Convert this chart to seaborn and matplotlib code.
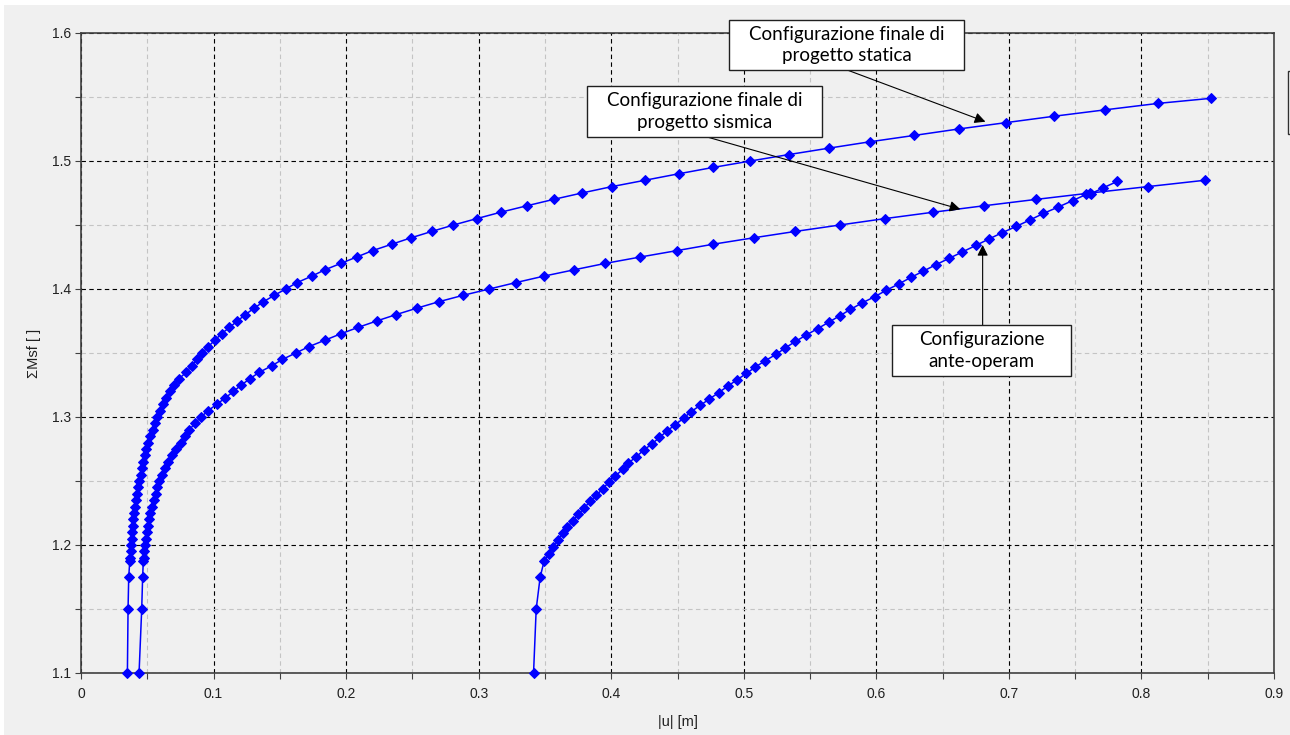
import matplotlib
matplotlib.use("Agg")
import matplotlib.pyplot as plt
from matplotlib.patches import Rectangle
import seaborn as sns
import pandas as pd

# --- data ------------------------------------------------------------------
statica_y = [1.1, 1.15, 1.175, 1.1875, 1.19, 1.195, 1.2, 1.205, 1.21, 1.215,
             1.22, 1.225, 1.23, 1.235, 1.24, 1.245, 1.25, 1.255, 1.26, 1.265,
             1.27, 1.275, 1.28, 1.285, 1.29, 1.295, 1.3, 1.305, 1.31, 1.315,
             1.32, 1.325, 1.33, 1.335, 1.34, 1.345, 1.35, 1.355, 1.36, 1.365,
             1.37, 1.375, 1.38, 1.385, 1.39, 1.395, 1.4, 1.405, 1.41, 1.415,
             1.42, 1.425, 1.43, 1.435, 1.44, 1.445, 1.45, 1.455, 1.46, 1.465,
             1.47, 1.475, 1.48, 1.485, 1.49, 1.495, 1.5, 1.505, 1.51, 1.515,
             1.52, 1.525, 1.53, 1.535, 1.54, 1.545, 1.549]
statica_x = [0.035, 0.0355, 0.036, 0.0368, 0.0372, 0.0375, 0.0378, 0.0382, 0.0386, 0.039,
             0.0395, 0.040, 0.0407, 0.0414, 0.0422, 0.043, 0.044, 0.045, 0.0458, 0.0468,
             0.048, 0.0493, 0.0508, 0.0523, 0.054, 0.0557, 0.0576, 0.0596, 0.0617, 0.064,
             0.0668, 0.070, 0.074, 0.0795, 0.0835, 0.0875, 0.0915, 0.096, 0.101, 0.106,
             0.112, 0.118, 0.124, 0.1306, 0.1376, 0.1457, 0.1545, 0.163, 0.174, 0.184,
             0.196, 0.208, 0.220, 0.2345, 0.249, 0.2647, 0.281, 0.2986, 0.3167, 0.3363,
             0.3565, 0.3779, 0.4005, 0.4257, 0.4508, 0.477, 0.505, 0.5338, 0.564, 0.595,
             0.6287, 0.662, 0.698, 0.7343, 0.7728, 0.8125, 0.8528]

sismica_y = [1.1, 1.15, 1.175, 1.1875, 1.19, 1.195, 1.2, 1.205, 1.21, 1.215,
             1.22, 1.225, 1.23, 1.235, 1.24, 1.245, 1.25, 1.255, 1.26, 1.265,
             1.27, 1.275, 1.28, 1.285, 1.29, 1.295, 1.3, 1.305, 1.31, 1.315,
             1.32, 1.325, 1.33, 1.335, 1.34, 1.345, 1.35, 1.355, 1.36, 1.365,
             1.37, 1.375, 1.38, 1.385, 1.39, 1.395, 1.4, 1.405, 1.41, 1.415,
             1.42, 1.425, 1.43, 1.435, 1.44, 1.445, 1.45, 1.455, 1.46, 1.465,
             1.47, 1.475, 1.48, 1.485]
sismica_x = [0.0438, 0.0458, 0.0465, 0.047, 0.0473, 0.0478, 0.0486, 0.0492, 0.050, 0.0507,
             0.0513, 0.052, 0.0533, 0.0548, 0.0563, 0.0577, 0.059, 0.0612, 0.0635, 0.066,
             0.069, 0.072, 0.0752, 0.0785, 0.0818, 0.0858, 0.0905, 0.096, 0.1025, 0.109,
             0.115, 0.121, 0.1275, 0.1346, 0.1439, 0.152, 0.162, 0.172, 0.184, 0.196,
             0.209, 0.223, 0.2377, 0.2533, 0.2697, 0.288, 0.308, 0.328, 0.349, 0.372,
             0.3955, 0.422, 0.4496, 0.477, 0.5074, 0.539, 0.5725, 0.6065, 0.643, 0.681,
             0.7205, 0.7615, 0.8048, 0.8483]

ante_y = [1.1, 1.15, 1.175, 1.1875, 1.193, 1.1985, 1.204, 1.209, 1.214, 1.219,
          1.224, 1.229, 1.234, 1.239, 1.244, 1.249, 1.254, 1.259, 1.264, 1.269,
          1.274, 1.279, 1.284, 1.289, 1.294, 1.299, 1.304, 1.309, 1.314, 1.319,
          1.324, 1.329, 1.334, 1.339, 1.344, 1.349, 1.354, 1.359, 1.364, 1.369,
          1.374, 1.379, 1.384, 1.389, 1.394, 1.399, 1.404, 1.409, 1.414, 1.419,
          1.424, 1.429, 1.434, 1.439, 1.444, 1.449, 1.454, 1.459, 1.464, 1.469,
          1.474, 1.4745, 1.479, 1.484]
ante_x = [0.3414, 0.3434, 0.3464, 0.3494, 0.3527, 0.356, 0.3595, 0.3634, 0.367, 0.371,
          0.3753, 0.3797, 0.384, 0.3888, 0.3938, 0.398, 0.403, 0.4088, 0.413, 0.4189,
          0.4244, 0.4307, 0.4364, 0.442, 0.4483, 0.4546, 0.460, 0.467, 0.474, 0.481,
          0.4878, 0.4948, 0.502, 0.5087, 0.5162, 0.5245, 0.5313, 0.539, 0.547, 0.5557,
          0.564, 0.5723, 0.5804, 0.589, 0.5988, 0.6075, 0.617, 0.626, 0.6355, 0.645,
          0.655, 0.665, 0.675, 0.6848, 0.695, 0.7057, 0.716, 0.726, 0.7371, 0.748,
          0.7585, 0.762, 0.7711, 0.7816]

x_ticks = [0, 0.1, 0.2, 0.3, 0.4, 0.5, 0.6, 0.7, 0.8, 0.9]
x_tick_labels = ["0", "0.1", "0.2", "0.3", "0.4", "0.5", "0.6", "0.7", "0.8", "0.9"]
y_ticks = [1.1, 1.2, 1.3, 1.4, 1.5, 1.6]
y_tick_labels = ["1.1", "1.2", "1.3", "1.4", "1.5", "1.6"]

label_statica = "Configurazione finale di\nprogetto statica"
label_sismica = "Configurazione finale di\nprogetto sismica"
label_ante = "Configurazione\nante-operam"

# --- style ------------------------------------------------------------------
sns.set_style("ticks")
plt.rcParams["font.family"] = ["Liberation Sans", "DejaVu Sans"]

BG = "#f0f0f0"
BLUE = "#0000ff"
SPINE = "#404040"

fig = plt.figure(figsize=(12.9, 7.35), dpi=100, facecolor="white")
fig.patches.append(Rectangle((4 / 1290, 0), 1, 1 - 5 / 735, transform=fig.transFigure,
                             facecolor=BG, edgecolor="none", zorder=-10))
ax = fig.add_axes([81 / 1290, 1 - 673 / 735, (1274 - 81) / 1290, (673 - 33) / 735])
ax.set_facecolor(BG)

for xs, ys in [(statica_x, statica_y), (sismica_x, sismica_y), (ante_x, ante_y)]:
    df = pd.DataFrame({"u": xs, "msf": ys})
    sns.lineplot(data=df, x="u", y="msf", sort=False, estimator=None, ax=ax,
                 color=BLUE, linewidth=1.1, marker="D", markersize=4.9,
                 markeredgecolor=BLUE, markerfacecolor=BLUE, clip_on=False, zorder=3)

ax.set_xlim(0, 0.9)
ax.set_ylim(1.1, 1.6)
ax.set_xticks(x_ticks)
ax.set_xticklabels(x_tick_labels)
ax.set_yticks(y_ticks)
ax.set_yticklabels(y_tick_labels)
ax.set_xticks([v + 0.05 for v in x_ticks[:-1]], minor=True)
ax.set_yticks([v + 0.05 for v in y_ticks[:-1]], minor=True)

ax.set_axisbelow(True)
ax.grid(which="major", color="black", linestyle=(0, (4, 3)), linewidth=0.8)
ax.grid(which="minor", color="#c4c4c4", linestyle=(0, (4, 3)), linewidth=0.8)

for s in ax.spines.values():
    s.set_color(SPINE)
    s.set_linewidth(1.2)
ax.tick_params(which="both", direction="out", length=4, width=0.8, color=SPINE,
               labelsize=10, labelcolor="#202020", pad=3)
ax.tick_params(axis="x", pad=6)

ax.set_xlabel("|u| [m]", fontsize=10.5, color="#202020", labelpad=10)
ax.set_ylabel("ΣMsf [ ]", fontsize=10.5, color="#202020", labelpad=8)

# --- annotation boxes and arrows ---------------------------------------------
def callout(text, x0, x1, y0, y1, start, tip):
    ax.add_patch(Rectangle((x0, y0), x1 - x0, y1 - y0, facecolor="white",
                           edgecolor="#202020", linewidth=1.0, clip_on=False, zorder=6))
    ax.text((x0 + x1) / 2, (y0 + y1) / 2, text, ha="center", va="center",
            fontsize=13.5, family=["Lato", "DejaVu Sans"], linespacing=1.3,
            color="black", zorder=7, clip_on=False)
    ax.annotate("", xy=tip, xytext=start, annotation_clip=False, zorder=5,
                arrowprops=dict(arrowstyle="-|>", color="black", lw=0.8,
                                mutation_scale=16, shrinkA=0, shrinkB=0))

callout(label_statica, 0.4891, 0.6664, 1.5711, 1.6102, (0.578, 1.5711), (0.6823, 1.5307))
callout(label_sismica, 0.3819, 0.5592, 1.5188, 1.5586, (0.4722, 1.5188), (0.6634, 1.4623))
callout(label_ante, 0.6121, 0.7472, 1.332, 1.3719, (0.6802, 1.3719), (0.6802, 1.4344))

# clipped legend box at the right edge
fig.patches.append(Rectangle((1287.5 / 1290, 1 - 134.3 / 735), 0.05, (134.3 - 70.7) / 735,
                             transform=fig.transFigure, facecolor="white",
                             edgecolor="#303030", linewidth=1.0, zorder=5))

fig.savefig("out.png", dpi=100, facecolor=fig.get_facecolor())
